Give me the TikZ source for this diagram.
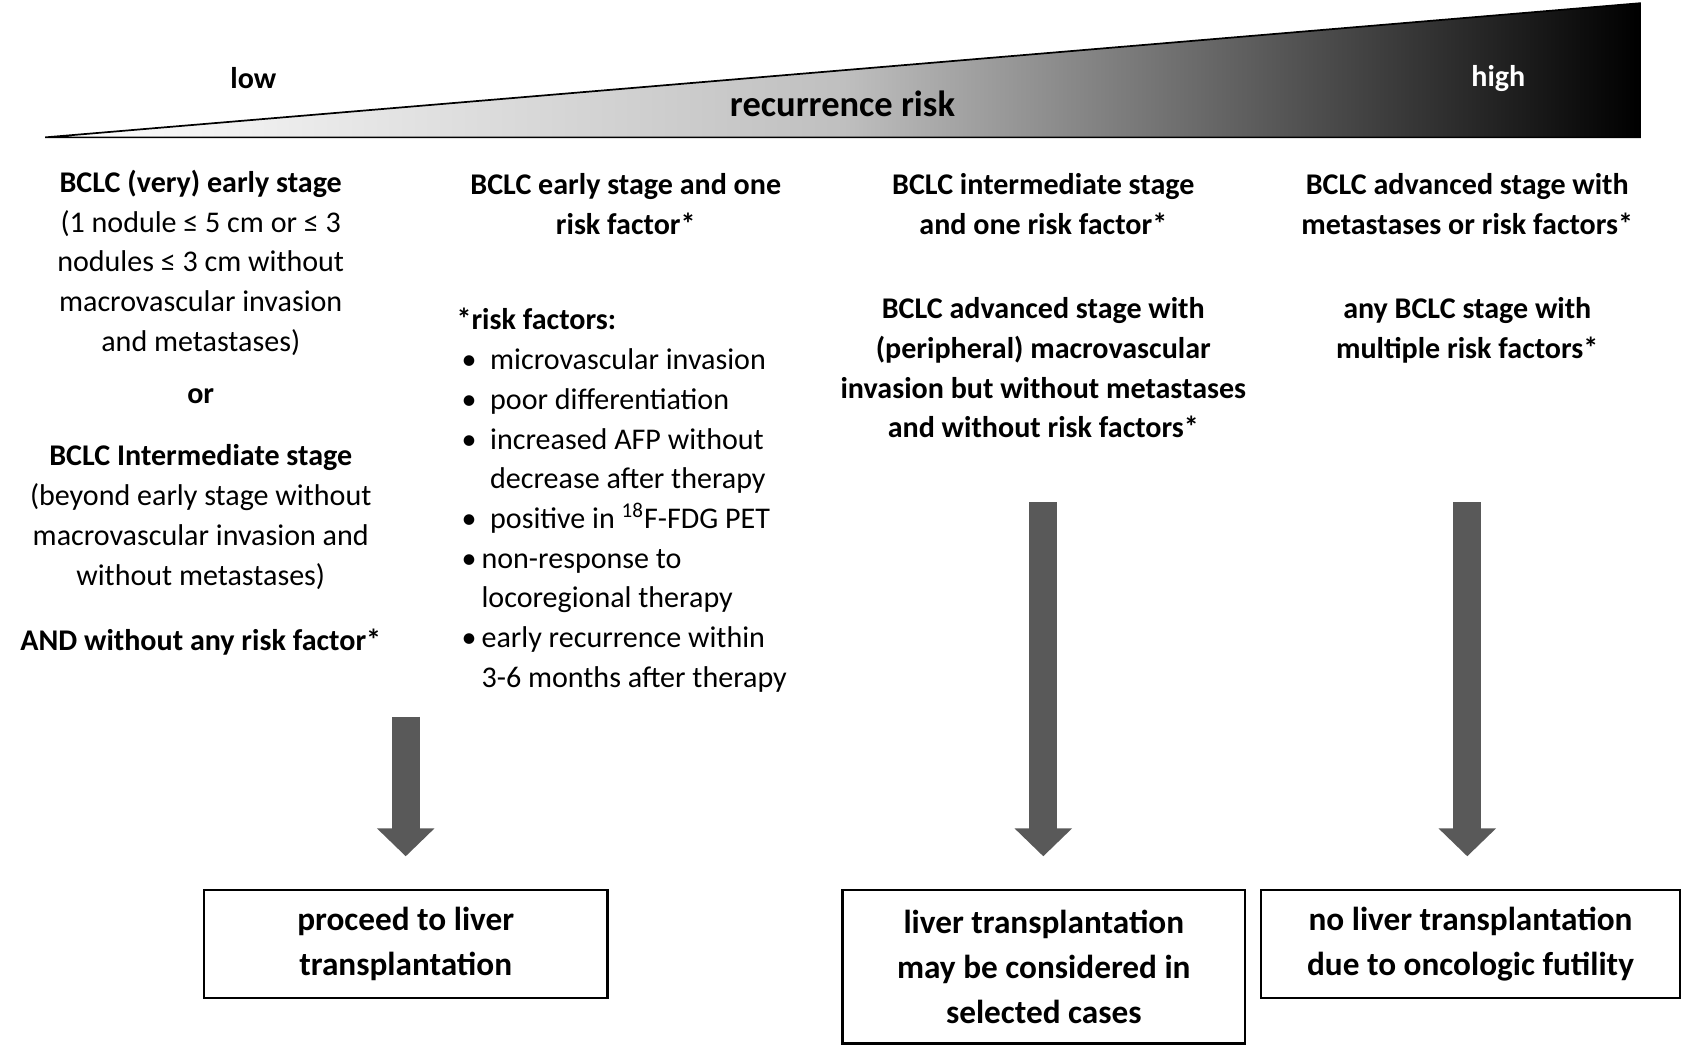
\documentclass[tikz,border=0pt]{standalone}
\usepackage{fontspec}
\setmainfont{Carlito}
\usetikzlibrary{arrows.meta, positioning}

\begin{document}
\begin{tikzpicture}[x=0.5pt, y=-0.5pt,
        txt/.style={align=center, font=\fontsize{14}{18.5}\selectfont, inner sep=0pt},
        btxt/.style={txt, font=\fontsize{14}{18.5}\selectfont\bfseries},
        outcome/.style={rectangle, draw, line width=1.2pt, align=center, inner sep=0pt, font=\fontsize{15.5}{21}\selectfont\bfseries},
        bigarrow/.style={-{Triangle[length=13pt, width=26pt]}, line width=13pt, draw=black!65, shorten >=15pt}]

        \useasboundingbox (0,0) rectangle (1568,977);

        % Risk wedge
        \shade[left color=white, right color=black, middle color=black!25] (42,128) -- (1528,128) -- (1528,3) -- cycle;
        \draw[line width=0.8pt] (42,128) -- (1528,128) -- (1528,3) -- cycle;
        \node[btxt] (low) at (236,73) {low};
        \node[btxt, font=\fontsize{17}{20}\selectfont\bfseries] (risk) at (785,97) {recurrence risk};
        \node[btxt, text=white] (high) at (1396,73) {high};

        % Column 1
        \node[txt, anchor=north] (c1a) at (187,158) {\textbf{BCLC (very) early stage}\\(1 nodule ≤ 5 cm or ≤ 3\\nodules ≤ 3 cm without\\macrovascular invasion\\and metastases)};
        \node[btxt, anchor=north] (c1or) at (187,362) {or};
        \node[txt, anchor=north] (c1b) at (187,414) {\textbf{BCLC Intermediate stage}\\(beyond early stage without\\macrovascular invasion and\\without metastases)};
        \node[btxt, anchor=north] (c1c) at (187,586) {AND without any risk factor*};

        % Column 2
        \node[btxt, anchor=north] (c2a) at (583,161) {BCLC early stage and one\\risk factor*};
        \node[txt, align=left, anchor=north west] (c2b) at (425,287) {\textbf{*risk factors:}\\
            \,\textbullet\ \ microvascular invasion\\
            \,\textbullet\ \ poor differentiation\\
            \,\textbullet\ \ increased AFP without\\
            \hphantom{\,\textbullet\ \ }decrease after therapy\\
            \,\textbullet\ \ positive in \textsuperscript{18}F-FDG PET\\
            \,\textbullet\,non-response to\\
            \hphantom{\,\textbullet\,}locoregional therapy\\
            \,\textbullet\,early recurrence within\\
            \hphantom{\,\textbullet\,}3-6 months after therapy};

        % Column 3
        \node[btxt, anchor=north] (c3a) at (972,161) {BCLC intermediate stage\\and one risk factor*};
        \node[btxt, anchor=north] (c3b) at (972,277) {BCLC advanced stage with\\(peripheral) macrovascular\\invasion but without metastases\\and without risk factors*};

        % Column 4
        \node[btxt, anchor=north] (c4a) at (1367,161) {BCLC advanced stage with\\metastases or risk factors*};
        \node[btxt, anchor=north] (c4b) at (1367,277) {any BCLC stage with\\multiple risk factors*};

        % Outcomes
        \node[outcome, minimum width=188pt, minimum height=50.5pt] (out1) at (378,879.5) {proceed to liver\\transplantation};
        \node[outcome, minimum width=187.5pt, minimum height=71.5pt] (out2) at (972.5,900.5) {liver transplantation\\may be considered in\\selected cases};
        \node[outcome, minimum width=195pt, minimum height=50.5pt] (out3) at (1370,879.5) {no liver transplantation\\due to oncologic futility};

        % Arrows
        \coordinate (s1) at (378,668);
        \coordinate (s2) at (972,468);
        \coordinate (s3) at (1367,468);
        \draw[bigarrow] (s1) -- (out1.north);
        \draw[bigarrow] (s2) -- (s2 |- out2.north);
        \draw[bigarrow] (s3) -- (s3 |- out3.north);
\end{tikzpicture}
\end{document}
